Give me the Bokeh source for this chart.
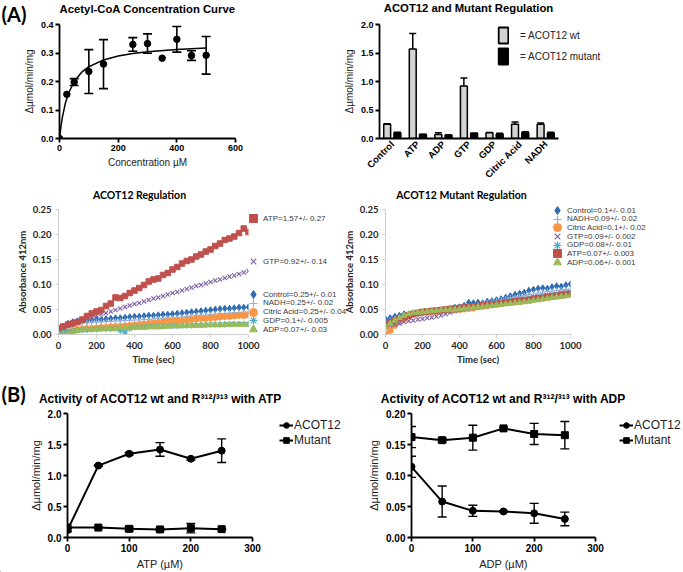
import math
from bokeh.plotting import figure
from bokeh.models import (ColumnDataSource, Whisker, TeeHead, FixedTicker, NumeralTickFormatter,
                          Legend, LegendItem, Label, Range1d)
from bokeh.layouts import row, column
from bokeh.embed import file_html
from bokeh.resources import INLINE

ARIAL = "Liberation Sans"
CALIBRI = "Lato"
PAGE_W, PAGE_H = 683, 572

# ---------------- Panel A1: Acetyl-CoA concentration curve ----------------
acetyl_conc = [0, 25, 50, 100, 150, 250, 300, 350, 400, 450, 500]
acetyl_rate = [0.0, 0.155, 0.198, 0.235, 0.261, 0.330, 0.333, 0.282, 0.348, 0.291, 0.292]
acetyl_err = [0.0, 0.0, 0.012, 0.077, 0.086, 0.024, 0.034, 0.0, 0.045, 0.017, 0.066]
fit_conc = [0, 5, 10, 20, 30, 50, 75, 100, 150, 200, 250, 300, 400, 500]
fit_rate = [0.0, 0.0425, 0.0756, 0.1236, 0.1569, 0.2000, 0.2318, 0.2519, 0.2757, 0.2894,
            0.2982, 0.3045, 0.3126, 0.3178]

# ---------------- Panel A2: bar chart ----------------
bar_cats = ["Control", "ATP", "ADP", "GTP", "GDP", "Citric Acid", "NADH"]
bar_wt = [0.25, 1.57, 0.07, 0.92, 0.10, 0.25, 0.25]
bar_wt_err = [0.01, 0.27, 0.03, 0.14, 0.005, 0.04, 0.02]
bar_mut = [0.10, 0.07, 0.06, 0.09, 0.08, 0.10, 0.09]
bar_mut_err = [0.01, 0.003, 0.001, 0.002, 0.01, 0.02, 0.02]

# ---------------- Panels A3/A4: kinetics ----------------
time_s = [0, 25, 50, 75, 100, 125, 150, 175, 200, 225, 250, 275, 300, 325, 350, 375, 400, 425,
          450, 475, 500, 525, 550, 575, 600, 625, 650, 675, 700, 725, 750, 775, 800, 825, 850,
          875, 900, 925, 950, 975, 1000]

wt_control = [0.011, 0.016, 0.022, 0.025, 0.027, 0.028, 0.028, 0.029, 0.030, 0.030, 0.031, 0.032,
              0.033, 0.033, 0.034, 0.035, 0.036, 0.036, 0.037, 0.038, 0.038, 0.039, 0.040, 0.040,
              0.041, 0.042, 0.043, 0.044, 0.045, 0.046, 0.047, 0.048, 0.049, 0.050, 0.051, 0.052,
              0.052, 0.053, 0.054, 0.054, 0.055]
wt_nadh = [0.008, 0.012, 0.016, 0.019, 0.021, 0.022, 0.023, 0.024, 0.025, 0.025, 0.026, 0.026,
           0.027, 0.027, 0.028, 0.028, 0.029, 0.029, 0.030, 0.030, 0.031, 0.032, 0.032, 0.033,
           0.033, 0.034, 0.035, 0.036, 0.037, 0.038, 0.039, 0.039, 0.040, 0.041, 0.042, 0.042,
           0.043, 0.044, 0.044, 0.045, 0.045]
wt_citric = [0.001, 0.002, 0.005, 0.008, 0.010, 0.011, 0.012, 0.012, 0.013, 0.014, 0.014, 0.015,
             0.016, 0.016, 0.017, 0.018, 0.019, 0.020, 0.021, 0.022, 0.023, 0.024, 0.025, 0.026,
             0.027, 0.027, 0.028, 0.029, 0.030, 0.031, 0.032, 0.032, 0.033, 0.034, 0.035, 0.036,
             0.036, 0.037, 0.038, 0.038, 0.039]
wt_gtp = [0.008, 0.013, 0.017, 0.022, 0.026, 0.029, 0.032, 0.035, 0.038, 0.041, 0.043, 0.046,
          0.049, 0.052, 0.055, 0.058, 0.061, 0.063, 0.066, 0.069, 0.072, 0.074, 0.077, 0.080,
          0.083, 0.085, 0.088, 0.091, 0.094, 0.097, 0.099, 0.102, 0.105, 0.108, 0.110, 0.113,
          0.116, 0.118, 0.121, 0.124, 0.127]
wt_gdp = [0.005, 0.005, 0.006, 0.007, 0.008, 0.009, 0.009, 0.010, 0.010, 0.011, 0.011, 0.011,
          0.012, 0.008, 0.005, 0.012, 0.015, 0.015, 0.015, 0.016, 0.016, 0.016, 0.016, 0.017,
          0.017, 0.017, 0.018, 0.018, 0.018, 0.019, 0.019, 0.019, 0.020, 0.020, 0.020, 0.020,
          0.021, 0.021, 0.021, 0.021, 0.021]
wt_atp = [0.013, 0.016, 0.020, 0.022, 0.025, 0.030, 0.037, 0.042, 0.046, 0.049, 0.057, 0.062,
          0.074, 0.073, 0.077, 0.083, 0.088, 0.093, 0.099, 0.106, 0.110, 0.112, 0.119, 0.123,
          0.130, 0.135, 0.142, 0.147, 0.150, 0.156, 0.160, 0.166, 0.170, 0.177, 0.182, 0.189,
          0.192, 0.196, 0.203, 0.212, 0.205]
wt_adp = [0.000, 0.000, 0.001, 0.005, 0.008, 0.009, 0.010, 0.010, 0.011, 0.011, 0.012, 0.012,
          0.012, 0.013, 0.013, 0.013, 0.014, 0.014, 0.014, 0.015, 0.015, 0.015, 0.016, 0.016,
          0.017, 0.017, 0.017, 0.018, 0.018, 0.018, 0.018, 0.019, 0.019, 0.019, 0.019, 0.020,
          0.020, 0.020, 0.020, 0.020, 0.020]

mut_control = [0.031, 0.033, 0.036, 0.038, 0.041, 0.040, 0.040, 0.042, 0.043, 0.044, 0.045, 0.047,
               0.048, 0.050, 0.052, 0.054, 0.055, 0.058, 0.064, 0.063, 0.064, 0.063, 0.066, 0.067,
               0.069, 0.071, 0.074, 0.077, 0.080, 0.082, 0.084, 0.088, 0.090, 0.092, 0.093, 0.092,
               0.095, 0.097, 0.096, 0.099, 0.101]
mut_nadh = [0.025, 0.028, 0.031, 0.034, 0.036, 0.038, 0.039, 0.040, 0.041, 0.042, 0.043, 0.044,
            0.045, 0.047, 0.048, 0.050, 0.051, 0.053, 0.055, 0.057, 0.059, 0.061, 0.063, 0.065,
            0.067, 0.069, 0.071, 0.073, 0.074, 0.076, 0.078, 0.080, 0.081, 0.083, 0.085, 0.086,
            0.087, 0.088, 0.089, 0.090, 0.091]
mut_citric = [0.001, 0.008, 0.018, 0.025, 0.031, 0.037, 0.041, 0.043, 0.045, 0.045, 0.046, 0.046,
              0.047, 0.048, 0.048, 0.049, 0.050, 0.051, 0.052, 0.053, 0.055, 0.056, 0.058, 0.059,
              0.061, 0.062, 0.064, 0.065, 0.067, 0.068, 0.069, 0.070, 0.071, 0.072, 0.073, 0.074,
              0.076, 0.077, 0.078, 0.079, 0.081]
mut_gtp = [0.015, 0.018, 0.020, 0.022, 0.025, 0.027, 0.028, 0.030, 0.031, 0.033, 0.034, 0.036,
           0.038, 0.041, 0.044, 0.047, 0.049, 0.051, 0.053, 0.054, 0.055, 0.057, 0.059, 0.060,
           0.061, 0.063, 0.065, 0.066, 0.068, 0.070, 0.071, 0.073, 0.075, 0.076, 0.078, 0.079,
           0.080, 0.081, 0.083, 0.084, 0.085]
mut_gdp = [0.018, 0.024, 0.029, 0.034, 0.038, 0.041, 0.043, 0.045, 0.046, 0.047, 0.048, 0.048,
           0.049, 0.049, 0.050, 0.050, 0.051, 0.052, 0.054, 0.056, 0.057, 0.059, 0.060, 0.062,
           0.063, 0.064, 0.066, 0.067, 0.068, 0.069, 0.070, 0.072, 0.073, 0.074, 0.076, 0.077,
           0.078, 0.079, 0.080, 0.082, 0.083]
mut_atp = [0.020, 0.024, 0.028, 0.032, 0.035, 0.038, 0.041, 0.043, 0.045, 0.046, 0.047, 0.048,
           0.049, 0.050, 0.051, 0.052, 0.053, 0.054, 0.055, 0.056, 0.057, 0.058, 0.059, 0.060,
           0.061, 0.062, 0.064, 0.065, 0.066, 0.067, 0.068, 0.069, 0.071, 0.072, 0.073, 0.075,
           0.076, 0.077, 0.079, 0.080, 0.081]
mut_adp = [0.016, 0.022, 0.028, 0.033, 0.038, 0.041, 0.043, 0.044, 0.045, 0.046, 0.047, 0.048,
           0.049, 0.049, 0.050, 0.050, 0.051, 0.052, 0.053, 0.054, 0.055, 0.056, 0.057, 0.058,
           0.059, 0.060, 0.061, 0.062, 0.063, 0.064, 0.065, 0.066, 0.068, 0.069, 0.071, 0.072,
           0.074, 0.075, 0.076, 0.077, 0.078]

wt_labels = {"Control": "Control=0.25+/- 0.01", "NADH": "NADH=0.25+/- 0.02",
             "Citric Acid": "Citric Acid=0.25+/- 0.04", "GTP": "GTP=0.92+/- 0.14",
             "GDP": "GDP=0.1+/- 0.005", "ATP": "ATP=1.57+/- 0.27", "ADP": "ADP=0.07+/- 0.03"}
mut_labels = {"Control": "Control=0.1+/- 0.01", "NADH": "NADH=0.09+/- 0.02",
              "Citric Acid": "Citric Acid=0.1+/- 0.02", "GTP": "GTP=0.09+/- 0.002",
              "GDP": "GDP=0.08+/- 0.01", "ATP": "ATP=0.07+/- 0.003", "ADP": "ADP=0.06+/- 0.001"}

# ---------------- Panel B ----------------
dose_um = [0, 50, 100, 150, 200, 250]
acot_atp = [0.12, 1.16, 1.35, 1.42, 1.27, 1.40]
acot_atp_err = [0.03, 0.01, 0.02, 0.11, 0.02, 0.19]
mutant_atp = [0.16, 0.16, 0.14, 0.13, 0.15, 0.135]
mutant_atp_err = [0.01, 0.01, 0.03, 0.02, 0.075, 0.01]
acot_adp = [0.114, 0.058, 0.043, 0.042, 0.039, 0.030]
acot_adp_err = [0.017, 0.025, 0.009, 0.001, 0.016, 0.011]
mutant_adp = [0.162, 0.157, 0.161, 0.176, 0.167, 0.165]
mutant_adp_err = [0.017, 0.003, 0.020, 0.002, 0.017, 0.022]

SUP = "\u00b3\u00b9\u00b2/\u00b3\u00b9\u00b3"
titles = {
    "A1": "Acetyl-CoA Concentration Curve",
    "A2": "ACOT12 and Mutant Regulation",
    "A3": "ACOT12 Regulation",
    "A4": "ACOT12 Mutant Regulation",
    "B1": "Activity of ACOT12 wt and R" + SUP + " with ATP",
    "B2": "Activity of ACOT12 wt and R" + SUP + " with ADP",
}


def make_fig(w, h, l, r, t, b, xr, yr):
    p = figure(width=w, height=h, x_range=xr, y_range=yr, output_backend="svg",
               toolbar_location=None, min_border_left=l, min_border_right=r,
               min_border_top=t, min_border_bottom=b)
    p.outline_line_color = None
    p.xgrid.visible = False
    p.ygrid.visible = False
    return p


def prism_axes(p, xticks, yticks, yfmt, xlabel, ylabel, tick_size, label_size):
    for ax in (p.xaxis[0], p.yaxis[0]):
        ax.axis_line_width = 1.8
        ax.axis_line_color = "black"
        ax.major_tick_line_width = 1.8
        ax.major_tick_line_color = "black"
        ax.major_tick_out = 4
        ax.major_tick_in = 0
        ax.minor_tick_line_color = None
        ax.major_label_text_font = ARIAL
        ax.major_label_text_font_style = "bold"
        ax.major_label_text_font_size = tick_size
        ax.major_label_text_color = "black"
        ax.major_label_standoff = 2
        ax.axis_label_text_font = ARIAL
        ax.axis_label_text_font_style = "normal"
        ax.axis_label_text_font_size = label_size
        ax.axis_label_text_color = "#222222"
        ax.axis_label_standoff = 3
    p.xaxis[0].ticker = FixedTicker(ticks=xticks)
    p.yaxis[0].ticker = FixedTicker(ticks=yticks)
    p.yaxis[0].formatter = NumeralTickFormatter(format=yfmt)
    p.xaxis[0].axis_label = xlabel
    p.yaxis[0].axis_label = ylabel


def excel_axes(p):
    for ax in (p.xaxis[0], p.yaxis[0]):
        ax.axis_line_color = "#cfcfcf"
        ax.axis_line_width = 1
        ax.major_tick_line_color = "#cfcfcf"
        ax.major_tick_out = 3
        ax.major_tick_in = 0
        ax.minor_tick_line_color = None
        ax.major_label_text_font = CALIBRI
        ax.major_label_text_font_style = "bold"
        ax.major_label_text_font_size = "9.5px"
        ax.major_label_text_color = "#262626"
        ax.major_label_standoff = 4
        ax.axis_label_text_font = CALIBRI
        ax.axis_label_text_font_style = "bold"
        ax.axis_label_text_font_size = "9.5px"
        ax.axis_label_text_color = "#262626"
        ax.axis_label_standoff = 2
    p.xaxis[0].ticker = FixedTicker(ticks=[0, 200, 400, 600, 800, 1000])
    p.yaxis[0].ticker = FixedTicker(ticks=[0, 0.05, 0.10, 0.15, 0.20, 0.25])
    p.yaxis[0].formatter = NumeralTickFormatter(format="0.00")
    p.xaxis[0].axis_label = "Time (sec)"
    p.yaxis[0].axis_label = "Absorbance 412nm"


# ======================= A1 =======================
p1 = make_fig(340, 186, 59, 105, 24, 45, Range1d(0, 600), Range1d(0, 0.4))
prism_axes(p1, [0, 200, 400, 600], [0, 0.1, 0.2, 0.3, 0.4], "0.0", "Concentration \u00b5M",
           "\u0394\u00b5mol/min/mg", "9px", "10px")
p1.line(fit_conc, fit_rate, line_color="black", line_width=1.5)
eb_x = [c for c, e in zip(acetyl_conc, acetyl_err) if e > 0]
eb_lo = [v - e for v, e in zip(acetyl_rate, acetyl_err) if e > 0]
eb_hi = [v + e for v, e in zip(acetyl_rate, acetyl_err) if e > 0]
p1.add_layout(Whisker(source=ColumnDataSource(dict(x=eb_x, lo=eb_lo, hi=eb_hi)), base="x",
                      lower="lo", upper="hi", line_width=1.6, line_color="black",
                      upper_head=TeeHead(size=9, line_width=1.6, line_color="black"),
                      lower_head=TeeHead(size=9, line_width=1.6, line_color="black")))
p1.scatter(acetyl_conc, acetyl_rate, size=6.5, color="black")

# ======================= A2 =======================
p2 = make_fig(343, 186, 39, 125, 23, 43, Range1d(0, len(bar_cats)), Range1d(0, 2.0))
cat_pos = [i + 0.5 for i in range(len(bar_cats))]
prism_axes(p2, cat_pos, [0, 0.5, 1.0, 1.5, 2.0], "0.0", "", "\u0394\u00b5mol/min/mg",
           "9px", "10px")
p2.xaxis[0].major_tick_out = 0
p2.xaxis[0].major_label_overrides = {c: n for c, n in zip(cat_pos, bar_cats)}
p2.xaxis[0].major_label_orientation = math.pi / 4
p2.xaxis[0].major_label_text_font_size = "9.5px"
p2.xaxis[0].major_label_standoff = 4
wt_x = [c - 0.2 for c in cat_pos]
mut_x = [c + 0.2 for c in cat_pos]
for xs, vals, errs in ((wt_x, bar_wt, bar_wt_err), (mut_x, bar_mut, bar_mut_err)):
    p2.add_layout(Whisker(source=ColumnDataSource(dict(x=xs, lo=vals,
                                                       hi=[v + e for v, e in zip(vals, errs)])),
                          base="x", lower="lo", upper="hi", line_width=1.5, line_color="black",
                          lower_head=None, level="underlay",
                          upper_head=TeeHead(size=7, line_width=1.5, line_color="black")))
p2.vbar(x=wt_x, top=bar_wt, width=0.27, fill_color="#d3d3d3", line_color="black", line_width=1.5)
p2.vbar(x=mut_x, top=bar_mut, width=0.27, fill_color="black", line_color="black", line_width=1.5)

# ======================= A3 / A4 =======================
series_style = [
    ("Control", "diamond", "#2E6DB4", 6.5),
    ("NADH", "cross", "#93AFD6", 6),
    ("Citric Acid", "circle", "#F79646", 6),
    ("GTP", "x", "#8064A2", 6),
    ("GDP", "asterisk", "#4BACC6", 6),
    ("ATP", "square", "#C0504D", 5.5),
    ("ADP", "triangle", "#9BBB59", 6),
]
wt_data = {"Control": wt_control, "NADH": wt_nadh, "Citric Acid": wt_citric, "GTP": wt_gtp,
           "GDP": wt_gdp, "ATP": wt_atp, "ADP": wt_adp}
mut_data = {"Control": mut_control, "NADH": mut_nadh, "Citric Acid": mut_citric, "GTP": mut_gtp,
            "GDP": mut_gdp, "ATP": mut_atp, "ADP": mut_adp}

p3 = make_fig(340, 189, 58, 92, 23, 41, Range1d(0, 1000), Range1d(0, 0.25))
excel_axes(p3)
p4 = make_fig(343, 189, 39, 113, 23, 41, Range1d(0, 1000), Range1d(0, 0.25))
excel_axes(p4)


def marker_kw(marker, color, size):
    lw = 1.2 if marker in ("cross", "x", "asterisk") else 1
    return dict(marker=marker, size=size, fill_color=color, line_color=color, line_width=lw)


for name, marker, color, size in series_style:
    p3.scatter(time_s, wt_data[name], **marker_kw(marker, color, size))
    p4.scatter(time_s, mut_data[name], **marker_kw(marker, color, size))

# ======================= B1 / B2 =======================
def dose_panel(w, l, xlabel, ylim, yticks, yfmt, acot, acot_err, mut, mut_err):
    p = make_fig(w, 197, l, 88, 38, 35, Range1d(0, 300), Range1d(0, ylim))
    prism_axes(p, [0, 100, 200, 300], yticks, yfmt, xlabel, "\u0394\u00b5mol/min/mg",
               "10px", "11px")
    for vals, errs in ((acot, acot_err), (mut, mut_err)):
        src = ColumnDataSource(dict(x=dose_um, lo=[v - e for v, e in zip(vals, errs)],
                                    hi=[v + e for v, e in zip(vals, errs)]))
        p.add_layout(Whisker(source=src, base="x", lower="lo", upper="hi", line_width=1.4,
                             line_color="black",
                             upper_head=TeeHead(size=9, line_width=1.4, line_color="black"),
                             lower_head=TeeHead(size=9, line_width=1.4, line_color="black")))
    p.line(dose_um, acot, line_color="black", line_width=2)
    p.scatter(dose_um, acot, marker="circle", size=7, color="black")
    p.line(dose_um, mut, line_color="black", line_width=2)
    p.scatter(dose_um, mut, marker="square", size=7, color="black")
    return p


p5 = dose_panel(340, 67, "ATP (\u00b5M)", 2.0, [0, 0.5, 1.0, 1.5, 2.0], "0.0",
                acot_atp, acot_atp_err, mutant_atp, mutant_atp_err)
p6 = dose_panel(343, 71, "ADP (\u00b5M)", 0.20, [0, 0.05, 0.10, 0.15, 0.20], "0.00",
                acot_adp, acot_adp_err, mutant_adp, mutant_adp_err)

# ============ page overlay: panel letters, titles and legend keys ============
ov = figure(width=PAGE_W, height=PAGE_H, x_range=Range1d(0, PAGE_W), y_range=Range1d(0, PAGE_H),
            output_backend="svg", toolbar_location=None, x_axis_location=None,
            y_axis_location=None, min_border=0, margin=(-PAGE_H, 0, 0, 0))
ov.outline_line_color = None
ov.background_fill_color = None
ov.border_fill_color = None
ov.xgrid.visible = False
ov.ygrid.visible = False


def ov_text(px, py, text, font, size, style="bold", align="center", baseline="middle",
            color="black"):
    ov.add_layout(Label(x=px, y=PAGE_H - py, text=text, text_font=font, text_font_size=size,
                        text_font_style=style, text_align=align, text_baseline=baseline,
                        text_color=color))


ov_text(1, 1, "(A)", CALIBRI, "20px", align="left", baseline="top")
ov_text(1, 381, "(B)", CALIBRI, "20px", align="left", baseline="top")
ov_text(147, 8, titles["A1"], ARIAL, "11.3px")
ov_text(468, 7, titles["A2"], ARIAL, "11.3px")
ov_text(139, 194, titles["A3"], CALIBRI, "10.5px")
ov_text(461, 194, titles["A4"], CALIBRI, "10.5px")
ov_text(160, 398, titles["B1"], ARIAL, "12px")
ov_text(503, 398, titles["B2"], ARIAL, "12px")


def ov_legend(label, renderers, left_px, bottom_px, gw, gh, font, size, standoff, color):
    ov.add_layout(Legend(items=[LegendItem(label=label, renderers=renderers, index=0)],
                         location=(left_px, PAGE_H - bottom_px), glyph_width=gw,
                         glyph_height=gh, label_standoff=standoff, padding=0, margin=0,
                         spacing=0, border_line_alpha=0, background_fill_alpha=0,
                         label_text_font=font, label_text_font_size=size,
                         label_text_color=color, label_height=6))


# key glyphs: one sample each, parked off-canvas so only the legend shows them
OFF = [-50]
OFF2 = [-60, -50]
k_wt = ov.vbar(x=OFF, top=OFF, width=1, fill_color="#d3d3d3", line_color="black", line_width=1.8)
k_mut = ov.vbar(x=OFF, top=OFF, width=1, fill_color="black", line_color="black", line_width=1.8)
ov_legend("= ACOT12 wt", [k_wt], 497, 45, 12, 20, ARIAL, "10px", 11, "#222222")
ov_legend("= ACOT12 mutant", [k_mut], 497, 66, 12, 20, ARIAL, "10px", 11, "#222222")

keys = {}
for name, marker, color, size in series_style:
    keys[name] = ov.scatter(x=OFF, y=OFF, **marker_kw(marker, color, size))
wt_key_rows = [("ATP", 218), ("GTP", 261), ("Control", 294), ("NADH", 302.75),
               ("Citric Acid", 311.5), ("GDP", 320.25), ("ADP", 329)]
for name, cy in wt_key_rows:
    ov_legend(wt_labels[name], [keys[name]], 243, cy + 10, 20, 20, ARIAL, "8px", 0, "#3a3a3a")
mut_order = ["Control", "NADH", "Citric Acid", "GTP", "GDP", "ATP", "ADP"]
for k, name in enumerate(mut_order):
    ov_legend(mut_labels[name], [keys[name]], 547, 210 + 8.67 * k + 10, 20, 20, ARIAL, "8px", 0,
              "#3a3a3a")

kl = ov.line(x=OFF2, y=OFF2, line_color="black", line_width=2)
kc = ov.scatter(x=OFF, y=OFF, marker="circle", size=7, color="black")
ks = ov.scatter(x=OFF, y=OFF, marker="square", size=7, color="black")
for left in (279, 619):
    ov_legend("ACOT12", [kl, kc], left, 432, 14, 14, ARIAL, "12px", 1, "#222222")
    ov_legend("Mutant", [kl, ks], left, 447, 14, 14, ARIAL, "12px", 1, "#222222")

layout = column(row(p1, p2), row(p3, p4), row(p5, p6), ov)
open("out.html", "w").write(file_html(layout, INLINE))
